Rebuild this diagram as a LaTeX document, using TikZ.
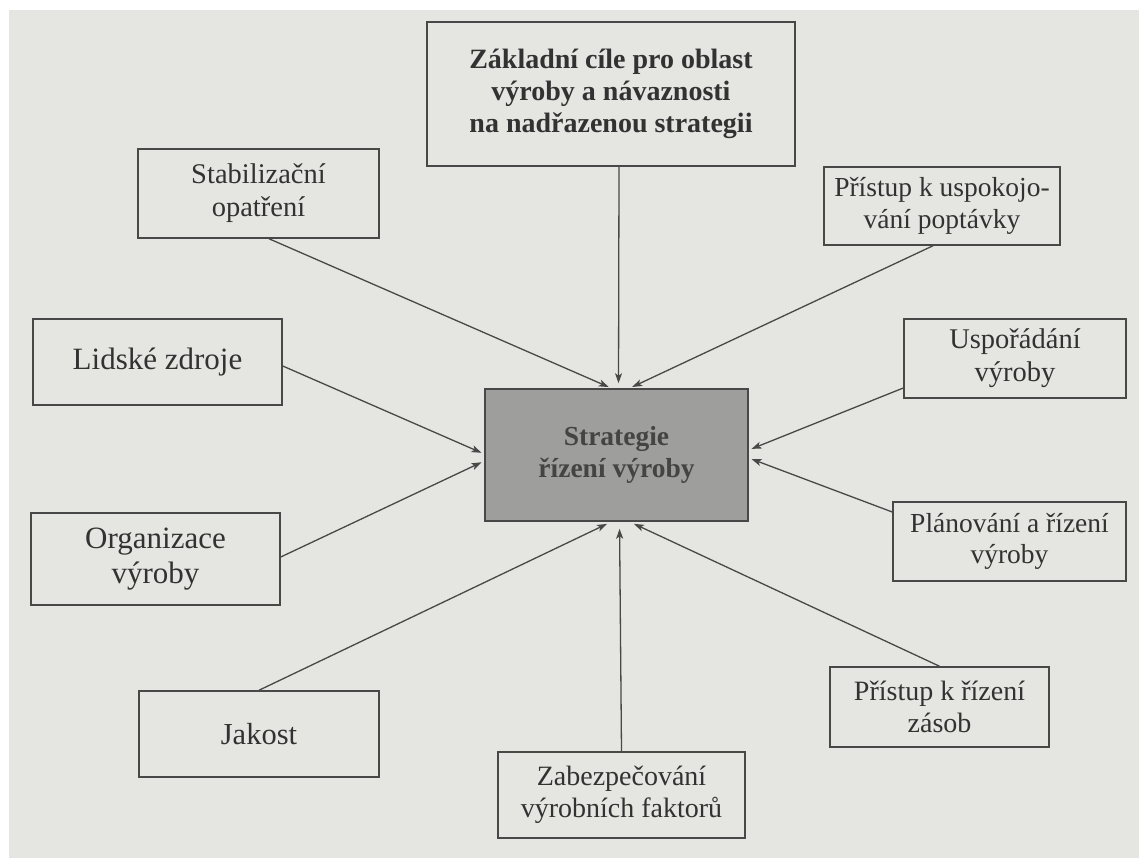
\documentclass[tikz,border=0pt]{standalone}
\usepackage{fontspec}
\setmainfont{Liberation Serif}
\usetikzlibrary{arrows.meta}
\definecolor{paper}{RGB}{229,229,226}
\definecolor{ink}{RGB}{72,72,72}
\definecolor{txt}{RGB}{50,50,50}
\definecolor{hub}{RGB}{158,158,157}
\definecolor{hubtxt}{RGB}{68,68,68}
\newcommand{\fsz}[1]{\fontsize{#1}{1.15\dimexpr#1pt\relax}\selectfont}
\begin{document}
\begin{tikzpicture}[x=1pt,y=-1pt,
  box/.style={draw=ink, line width=1.5pt, text=txt, align=center, inner sep=0pt},
  link/.style={draw=ink, line width=1.3pt, -{Stealth[length=10pt,width=7pt,inset=2.5pt]}}]
% page background
\fill[white] (0,0) rectangle (1139,858);
\fill[paper] (9,10) rectangle (1139,858);
\useasboundingbox (0,0) rectangle (1139,858);

% central box
\node[box, fill=hub, text=hubtxt, minimum width=263pt, minimum height=132pt,
      font=\bfseries\fsz{27.5}] (hubbox) at (616.5,455) {Strategie\\řízení výroby};

% surrounding boxes
\node[box, minimum width=368pt, minimum height=144pt, font=\bfseries\fsz{28}]
  (goal) at (611,94) {Základní cíle pro oblast\\výroby a návaznosti\\na nadřazenou strategii};
\node[box, minimum width=241pt, minimum height=89pt, font=\fsz{28.5}]
  (stab) at (258.5,193.5) {\rule{0pt}{14pt}Stabilizační\\opatření};
\node[box, minimum width=236pt, minimum height=78pt, font=\fsz{27.5}]
  (demand) at (942,206) {Přístup k uspokojo-\\vání poptávky};
\node[box, minimum width=249pt, minimum height=86pt, font=\fsz{31}]
  (people) at (157.5,362) {Lidské zdroje};
\node[box, minimum width=222pt, minimum height=79pt, font=\fsz{28.5}]
  (layout) at (1015,358.5) {Uspořádání\\výroby};
\node[box, minimum width=249pt, minimum height=92pt, font=\fsz{31}]
  (organ) at (155.5,559) {Organizace\\výroby};
\node[box, minimum width=233pt, minimum height=79pt, font=\fsz{27.5}]
  (plan) at (1009.5,541.5) {Plánování a řízení\\výroby};
\node[box, minimum width=240pt, minimum height=86pt, font=\fsz{30.5}]
  (quality) at (259,734) {Jakost};
\node[box, minimum width=247pt, minimum height=86pt, font=\fsz{28}]
  (factors) at (621.5,795) {Zabezpečování\\výrobních faktorů};
\node[box, minimum width=219pt, minimum height=80pt, font=\fsz{28}]
  (stock) at (939.5,707) {Přístup k řízení\\zásob};

% connectors into the central box
\draw[link, shorten >=5pt] ([xshift=8pt]goal.south) -- ([xshift=2pt]hubbox.north);
\draw[link, shorten >=3pt] ([xshift=10.5pt]stab.south) -- ([xshift=-5pt]hubbox.north);
\draw[link, shorten >=3pt] ([xshift=-9pt]demand.south) -- ([xshift=13pt]hubbox.north);
\draw[link, shorten >=3pt] ([yshift=-4pt]people.east) -- ([yshift=1pt]hubbox.west);
\draw[link, shorten >=3pt] ([yshift=2pt]organ.east) -- ([yshift=-6pt]hubbox.west);
\draw[link, shorten >=3pt] ([yshift=-29.5pt]layout.west) -- ([yshift=5pt]hubbox.east);
\draw[link, shorten >=3pt] ([yshift=29.5pt]plan.west) -- ([yshift=-3pt]hubbox.east);
\draw[link, shorten >=5pt] (quality.north) -- ([xshift=-5pt]hubbox.south);
\draw[link, shorten >=7pt] (factors.north) -- ([xshift=3pt]hubbox.south);
\draw[link, shorten >=5pt] (stock.north) -- ([xshift=13pt]hubbox.south);
\end{tikzpicture}
\end{document}
